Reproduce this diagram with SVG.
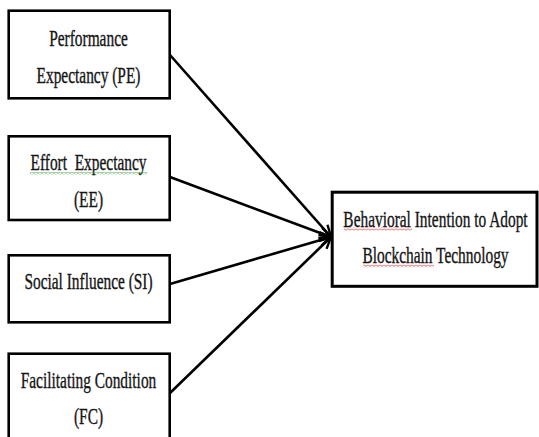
<svg xmlns="http://www.w3.org/2000/svg" width="539" height="437" viewBox="0 0 539 437">
<style>
.box{fill:#fff;stroke:#000;stroke-width:2.6}
.lbl{font-family:"Liberation Serif","Times New Roman",serif;font-size:15.4px;fill:#151515;stroke:#151515;stroke-width:0.25;text-anchor:middle}
.conn{stroke:#000;stroke-width:2.6;fill:none;marker-end:url(#arr)}
</style>
<defs>
<marker id="arr" markerUnits="userSpaceOnUse" viewBox="0 0 14 14" markerWidth="14" markerHeight="14" refX="12.5" refY="7" orient="auto">
<path d="M1,1.5 L12.5,7 L1,12.5" fill="none" stroke="#000" stroke-width="2.4" stroke-linejoin="miter"/>
</marker>
<pattern id="sqG" width="4" height="3" patternUnits="userSpaceOnUse">
<polyline points="0,0.5 2,2.5 4,0.5" fill="none" stroke="#3aa03a" stroke-width="0.9"/>
</pattern>
<pattern id="sqR" width="4" height="3" patternUnits="userSpaceOnUse">
<polyline points="0,0.5 2,2.5 4,0.5" fill="none" stroke="#e03030" stroke-width="0.9"/>
</pattern>
</defs>
<rect width="539" height="437" fill="#fff"/>
<g id="connectors">
<line class="conn" x1="170" y1="55" x2="331" y2="237"/>
<line class="conn" x1="170" y1="177" x2="331" y2="237"/>
<line class="conn" x1="170" y1="284" x2="331" y2="237"/>
<line class="conn" x1="170" y1="393" x2="331" y2="237"/>
</g>
<g id="pe">
<rect class="box" x="8.7" y="10.7" width="161" height="87.6"/>
<text class="lbl" transform="translate(88.5,46) scale(1,1.45)">Performance</text>
<text class="lbl" transform="translate(88.5,83) scale(1,1.45)">Expectancy (PE)</text>
</g>
<g id="ee">
<rect class="box" x="8.7" y="136.3" width="161" height="83.7"/>
<text class="lbl" transform="translate(88.5,170) scale(1,1.45)" xml:space="preserve">Effort  Expectancy</text>
<rect x="30" y="172" width="117" height="3" fill="url(#sqG)"/>
<text class="lbl" transform="translate(88.5,207) scale(1,1.45)">(EE)</text>
</g>
<g id="si">
<rect class="box" x="8.7" y="255.3" width="161" height="67"/>
<text class="lbl" transform="translate(88.5,289) scale(1,1.45)">Social Influence (SI)</text>
</g>
<g id="fc">
<rect class="box" x="8.7" y="353.7" width="161" height="100"/>
<text class="lbl" transform="translate(88.5,388) scale(1,1.45)">Facilitating Condition</text>
<text class="lbl" transform="translate(88.5,424) scale(1,1.45)">(FC)</text>
</g>
<g id="bi">
<rect class="box" style="stroke-width:3" x="332.2" y="192.2" width="204.8" height="94.1"/>
<text class="lbl" transform="translate(435.5,226.5) scale(1,1.45)">Behavioral Intention to Adopt</text>
<rect x="344" y="227.5" width="68" height="3" fill="url(#sqR)"/>
<text class="lbl" transform="translate(435.5,263) scale(1,1.45)">Blockchain Technology</text>
<rect x="363" y="264.5" width="71" height="3" fill="url(#sqR)"/>
</g>
</svg>
